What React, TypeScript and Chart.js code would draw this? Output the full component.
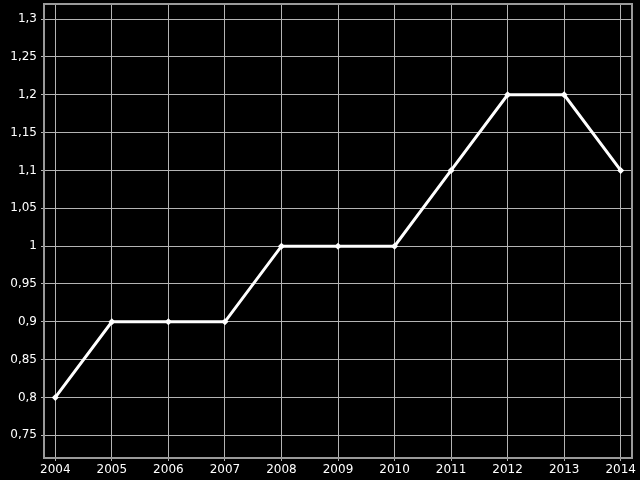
import React, { useEffect, useRef } from "react";
import { Chart, registerables } from "chart.js";

Chart.register(...registerables);

const years = [2004, 2005, 2006, 2007, 2008, 2009, 2010, 2011, 2012, 2013, 2014];
const values = [0.8, 0.9, 0.9, 0.9, 1.0, 1.0, 1.0, 1.1, 1.2, 1.2, 1.1];
const yTicks = [0.75, 0.8, 0.85, 0.9, 0.95, 1.0, 1.05, 1.1, 1.15, 1.2, 1.25, 1.3];

const framePlugin = {
  id: "frame",
  afterDraw(chart: any) {
    const { ctx, chartArea } = chart;
    ctx.save();
    ctx.strokeStyle = "#9a9a9a";
    ctx.lineWidth = 2;
    ctx.strokeRect(chartArea.left, chartArea.top, chartArea.right - chartArea.left, chartArea.bottom - chartArea.top);
    ctx.restore();
  },
};

export default function App() {
  const ref = useRef<HTMLCanvasElement>(null);
  useEffect(() => {
    const ctx = ref.current!;
    const chart = new Chart(ctx, {
      type: "line",
      data: {
        datasets: [
          {
            data: years.map((y, i) => ({ x: y, y: values[i] })),
            borderColor: "#ffffff",
            backgroundColor: "#ffffff",
            borderWidth: 3,
            pointStyle: "rectRot",
            pointRadius: 3.5,
            pointBorderWidth: 0,
            pointBackgroundColor: "#ffffff",
            tension: 0,
          },
        ],
      },
      options: {
        animation: false,
        responsive: false,
        layout: { padding: { top: 4, right: 8, left: 0, bottom: 0 } },
        plugins: { legend: { display: false }, tooltip: { enabled: false } },
        scales: {
          x: {
            type: "linear",
            min: 2003.8,
            max: 2014.2,
            afterBuildTicks: (scale: any) => {
              scale.ticks = years.map((v) => ({ value: v }));
            },
            afterFit: (scale: any) => {
              scale.height = 22;
              scale.paddingLeft = 0;
              scale.paddingRight = 0;
            },
            grid: { color: "#b4b4b4", lineWidth: 1, tickLength: 3 },
            border: { display: false },
            ticks: {
              color: "#ffffff",
              font: { family: "DejaVu Sans", size: 12 },
              padding: 2,
              maxRotation: 0,
              autoSkip: false,
              callback: (v: any) => String(v),
            },
          },
          y: {
            type: "linear",
            min: 0.72,
            max: 1.32,
            afterBuildTicks: (scale: any) => {
              scale.ticks = yTicks.map((v) => ({ value: v }));
            },
            afterFit: (scale: any) => {
              scale.width = 44;
              scale.paddingTop = 0;
              scale.paddingBottom = 0;
            },
            grid: { color: "#b4b4b4", lineWidth: 1, tickLength: 3 },
            border: { display: false },
            ticks: {
              color: "#ffffff",
              font: { family: "DejaVu Sans", size: 12 },
              padding: 4,
              autoSkip: false,
              callback: (v: any) => String(Math.round(Number(v) * 100) / 100).replace(".", ","),
            },
          },
        },
      },
      plugins: [framePlugin],
    });
    return () => chart.destroy();
  }, []);
  return (
    <div style={{ position: "absolute", left: 0, top: 0, width: 640, height: 480, background: "#000" }}>
      <canvas ref={ref} width={640} height={480} style={{ display: "block" }} />
    </div>
  );
}
